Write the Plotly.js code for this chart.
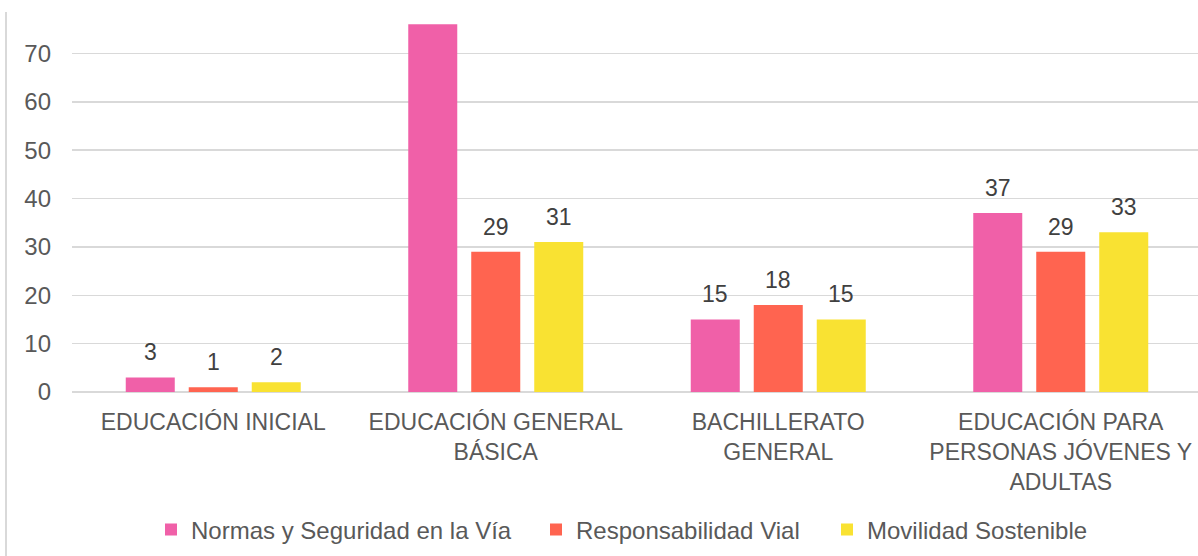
<!DOCTYPE html>
<html>
<head>
<meta charset="utf-8">
<script src="https://cdn.plot.ly/plotly-3.0.1.min.js"></script>
<style>
  html, body { margin: 0; padding: 0; background: #fff; overflow: hidden; width: 1198px; height: 556px; }
  #chart { position: absolute; left: 0; top: 0; width: 1215px; height: 556px; }
  #topband { position: absolute; left: 0; top: 0; width: 1198px; height: 12px; background: #fff; z-index: 5; }
  #frame { position: absolute; left: 5px; top: 12px; width: 2px; height: 544px; background: #d9d9d9; z-index: 6; }
</style>
</head>
<body>
<div id="chart"></div>
<div id="topband"></div>
<div id="frame"></div>
<script>
const categories = [
  "EDUCACIÓN INICIAL",
  "EDUCACIÓN GENERAL<br>BÁSICA",
  "BACHILLERATO<br>GENERAL",
  "EDUCACIÓN PARA<br>PERSONAS JÓVENES Y<br>ADULTAS"
];
const seriesNames = ["Normas y Seguridad en la Vía", "Responsabilidad Vial", "Movilidad Sostenible"];
const normas = [3, 76, 15, 37];
const responsabilidad = [1, 29, 18, 29];
const movilidad = [2, 31, 15, 33];
const colors = ["#f060a8", "#ff6450", "#f9e232"];
const yTicks = [0, 10, 20, 30, 40, 50, 60, 70, 80];

const allSeries = [normas, responsabilidad, movilidad];
const FONT = "Liberation Sans, Arial, sans-serif";
const W = 1215, H = 556;
const bargap = 0.331;
const nSeries = allSeries.length;
const slot = (1 - bargap) / nSeries;
const legendNames = ["legend", "legend2", "legend3"];
const legendLeftPx = [151, 536, 827];

const traces = allSeries.map((vals, i) => ({
  type: "bar",
  name: seriesNames[i],
  x: categories,
  y: vals,
  marker: { color: colors[i] },
  legend: legendNames[i],
  hoverinfo: "y"
}));

const annotations = [];
allSeries.forEach((vals, i) => {
  vals.forEach((v, j) => {
    annotations.push({
      x: j + (i - (nSeries - 1) / 2) * slot,
      y: v,
      xref: "x", yref: "y",
      text: String(v),
      showarrow: false,
      yanchor: "bottom",
      yshift: 10,
      font: { family: FONT, size: 23, color: "#404040" }
    });
  });
});

const layout = {
  width: W,
  height: H,
  margin: { l: 72, r: 13, t: 5, b: 164 },
  paper_bgcolor: "#ffffff",
  plot_bgcolor: "#ffffff",
  barmode: "group",
  bargap: bargap,
  bargroupgap: 0.222,
  font: { family: FONT, color: "#595959", size: 23 },
  xaxis: {
    type: "category",
    tickfont: { family: FONT, size: 23, color: "#595959" },
    showgrid: false,
    showline: false,
    ticks: "",
    ticklabelstandoff: 14,
    fixedrange: true
  },
  yaxis: {
    range: [0, 80],
    tickvals: yTicks,
    ticktext: yTicks.map(String),
    tickfont: { family: FONT, size: 24, color: "#595959" },
    showgrid: true,
    gridcolor: "#d9d9d9",
    gridwidth: 1.5,
    zeroline: true,
    zerolinecolor: "#d9d9d9",
    zerolinewidth: 1.5,
    showline: false,
    ticks: "",
    ticklabelstandoff: 20,
    fixedrange: true
  },
  showlegend: true,
  annotations: annotations
};
legendNames.forEach((ln, i) => {
  layout[ln] = {
    orientation: "h",
    x: legendLeftPx[i] / W, xref: "container", xanchor: "left",
    y: 26 / H, yref: "container", yanchor: "middle",
    font: { family: FONT, size: 24, color: "#595959" },
    itemwidth: 30,
    bgcolor: "rgba(0,0,0,0)"
  };
});

Plotly.newPlot("chart", traces, layout, { displayModeBar: false, staticPlot: true });
</script>
</body>
</html>
